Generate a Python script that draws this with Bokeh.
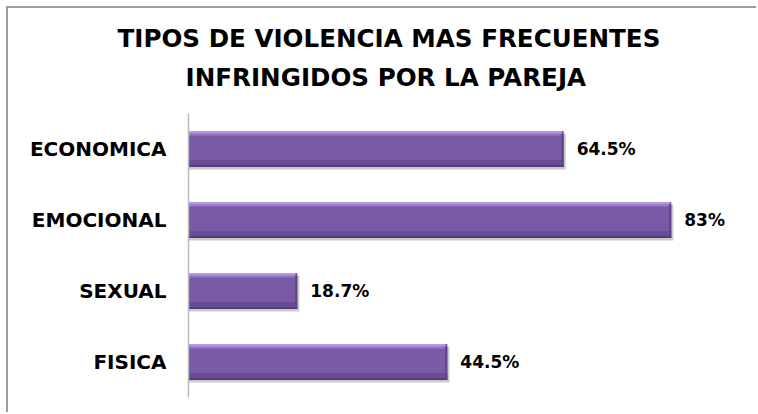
from bokeh.plotting import figure
from bokeh.models import ColumnDataSource, FactorRange, Range1d, Title
from bokeh.transform import dodge
from bokeh.core.properties import value
from bokeh.embed import file_html
from bokeh.resources import INLINE

categories = ["FISICA", "SEXUAL", "EMOCIONAL", "ECONOMICA"]
values = [44.5, 18.7, 83.0, 64.5]
labels = ["44.5%", "18.7%", "83%", "64.5%"]
title_lines = ["TIPOS DE VIOLENCIA MAS FRECUENTES", "INFRINGIDOS POR LA PAREJA"]

src = ColumnDataSource(dict(cat=categories, val=values, lab=labels))

p = figure(width=750, height=406, output_backend="svg", toolbar_location=None,
           y_range=FactorRange(factors=categories, range_padding=0),
           x_range=Range1d(0, 98),
           min_border_left=180, min_border_right=0, min_border_top=105,
           min_border_bottom=17, x_axis_location=None)
p.styles = {"margin-left": "6px", "margin-top": "6px",
            "border-top": "2px solid #9c9c9c", "border-left": "2px solid #9c9c9c"}
p.outline_line_color = None
p.grid.grid_line_color = None

yaxis = p.yaxis[0]
yaxis.axis_line_color = "#BBBBBB"
yaxis.axis_line_width = 1.5
yaxis.major_tick_line_color = None
yaxis.minor_tick_line_color = None
yaxis.major_label_standoff = 16
yaxis.major_label_text_font = "DejaVu Sans"
yaxis.major_label_text_font_style = "bold"
yaxis.major_label_text_font_size = "20px"
yaxis.major_label_text_color = "#000000"

# shadow
p.hbar(y=dodge("cat", -0.035, range=p.y_range), left=0, right=dodge("val", 0.35), height=0.51,
       source=src, fill_color="#888888", fill_alpha=0.45, line_color=None)
# main bar
p.hbar(y="cat", left=0, right="val", height=0.51, source=src,
       fill_color="#7A59A7", line_color=None)
# darker lower part
p.hbar(y=dodge("cat", -0.205, range=p.y_range), left=0, right="val", height=0.1, source=src,
       fill_color="#6A4C95", line_color=None)
p.hbar(y=dodge("cat", -0.24, range=p.y_range), left=0, right="val", height=0.03, source=src,
       fill_color="#563C7C", line_color=None)
# top highlight
p.hbar(y=dodge("cat", 0.235, range=p.y_range), left=0, right=dodge("val", -0.3), height=0.04, source=src,
       fill_color="#B699E4", line_color=None)
p.hbar(y=dodge("cat", 0.205, range=p.y_range), left=0, right=dodge("val", -0.5), height=0.03, source=src,
       fill_color="#9679C4", line_color=None)
# right edge darker
p.hbar(y="cat", left=dodge("val", -0.35), right="val", height=0.44, source=src,
       fill_color="#5F4388", line_color=None)

p.text(x="val", y="cat", text="lab", source=src, x_offset=13,
       text_baseline="middle", text_align="left",
       text_font=value("DejaVu Sans"), text_font_style="bold",
       text_font_size="17px", text_color="#000000")

# title: second line added first (closest to the plot)
title_offsets = [-71, -3]
title_standoffs = [-29, 44]
for line, off, so in reversed(list(zip(title_lines, title_offsets, title_standoffs))):
    t = Title(text=line, align="left", offset=off,
              text_font="DejaVu Sans", text_font_style="bold",
              text_font_size="24.6px", text_color="#000000")
    try:
        t.standoff = so
    except ValueError:
        t.standoff = 0
    p.add_layout(t, "above")

open("out.html", "w").write(file_html(p, INLINE))
